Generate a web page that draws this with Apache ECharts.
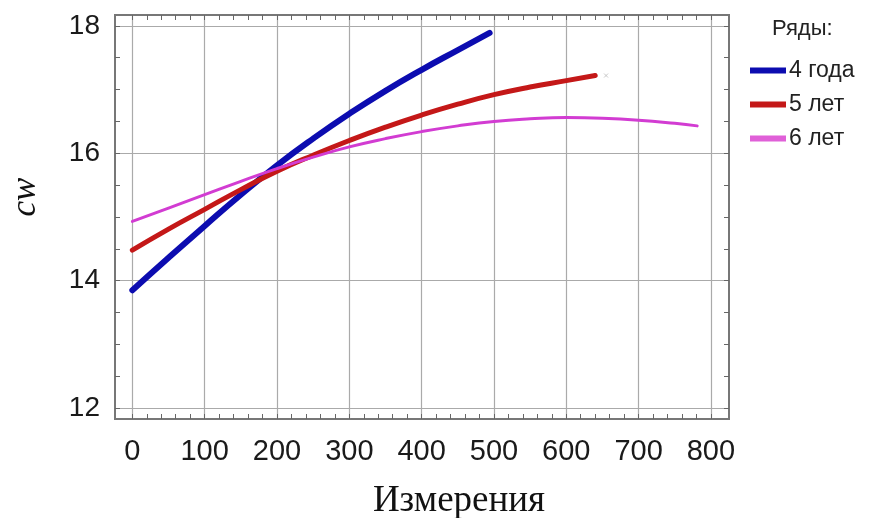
<!DOCTYPE html>
<html>
<head>
<meta charset="utf-8">
<script src="https://cdn.jsdelivr.net/npm/echarts@6/dist/echarts.min.js"></script>
<style>
html,body{margin:0;padding:0;background:#fff;}
#chart{width:869px;height:518px;}
</style>
</head>
<body>
<div id="chart"></div>
<script>
// ---- Data ----
const seriesNames = ['4 года', '5 лет', '6 лет'];

const x4 = [0, 50, 100, 150, 200, 250, 300, 350, 400, 450, 494];
const y4 = [13.85, 14.36, 14.86, 15.35, 15.81, 16.23, 16.62, 16.98, 17.31, 17.62, 17.89];

const x5 = [0, 50, 100, 150, 200, 250, 300, 350, 400, 450, 500, 550, 600, 640];
const y5 = [14.48, 14.81, 15.12, 15.43, 15.72, 15.97, 16.20, 16.41, 16.60, 16.77, 16.92, 17.04, 17.14, 17.22];

const x6 = [0, 50, 100, 150, 200, 250, 300, 350, 400, 450, 500, 550, 600, 650, 700, 750, 781];
const y6 = [14.93, 15.14, 15.35, 15.56, 15.76, 15.94, 16.10, 16.23, 16.34, 16.43, 16.50, 16.54, 16.56, 16.55, 16.52, 16.47, 16.43];

const xTickLabels = [0, 100, 200, 300, 400, 500, 600, 700, 800];
const yTickLabels = [12, 14, 16, 18];
const xMinorTicks = [];
for (let v = 0; v <= 800; v += 20) xMinorTicks.push(v);
const yMinorTicks = [];
for (let v = 12; v <= 18; v += 0.5) yMinorTicks.push(v);

const strayMark = [[655, 17.22]];

// ---- Chart ----
const pairs = (xs, ys) => xs.map((x, i) => [x, ys[i]]);
const X_MIN = -24, X_MAX = 825, Y_MIN = 11.83, Y_MAX = 18.17;

const chart = echarts.init(document.getElementById('chart'), null, {renderer: 'canvas'});

const minorX = (pos) => ({
  type: 'value', position: pos, min: X_MIN, max: X_MAX,
  axisLine: {show: false, onZero: false},
  axisLabel: {show: false},
  splitLine: {show: false},
  axisTick: {show: true, inside: true, length: 5, customValues: xMinorTicks,
    lineStyle: {color: '#666', width: 1}}
});
const minorY = (pos) => ({
  type: 'value', position: pos, min: Y_MIN, max: Y_MAX,
  axisLine: {show: false, onZero: false},
  axisLabel: {show: false},
  splitLine: {show: false},
  axisTick: {show: true, inside: true, length: 5, customValues: yMinorTicks,
    lineStyle: {color: '#666', width: 1}}
});

const colors = ['#0c0cb0', '#c41818', '#d23cd2'];
const widths = [6, 5, 3];

chart.setOption({
  animation: false,
  backgroundColor: '#ffffff',
  title: {
    text: 'Ряды:', left: 767, top: 13,
    textStyle: {fontFamily: 'Liberation Sans', fontSize: 22, fontWeight: 'normal', color: '#222'}
  },
  legend: {
    orient: 'vertical', left: 745, top: 54,
    itemWidth: 36, itemHeight: 6, itemGap: 11,
    icon: 'rect',
    data: seriesNames,
    textStyle: {fontFamily: 'Liberation Sans', fontSize: 23, color: '#222', padding: [0, 0, 0, -2]}
  },
  grid: {
    left: 115, right: 140, top: 15, bottom: 99,
    outerBoundsMode: 'none', containLabel: false,
    show: true, borderColor: '#777', borderWidth: 2, backgroundColor: 'transparent'
  },
  xAxis: [
    {
      type: 'value', position: 'bottom', min: X_MIN, max: X_MAX,
      name: 'Измерения', nameLocation: 'middle', nameGap: 64,
      nameTextStyle: {fontFamily: 'Liberation Serif', fontSize: 37, color: '#111', padding: [0, 0, 0, 74]},
      axisLine: {show: false, onZero: false},
      axisTick: {show: false, customValues: xTickLabels},
      axisLabel: {customValues: xTickLabels, margin: 18, fontFamily: 'Liberation Sans', fontSize: 29, color: '#1a1a1a'},
      splitLine: {show: true, lineStyle: {color: '#aaa', width: 1.2}}
    },
    minorX('bottom'),
    minorX('top')
  ],
  yAxis: [
    {
      type: 'value', position: 'left', min: Y_MIN, max: Y_MAX,
      name: 'cw', nameLocation: 'middle', nameGap: 72,
      nameTextStyle: {fontFamily: 'Liberation Serif', fontStyle: 'italic', fontSize: 35, color: '#111', padding: [0, 0, 0, 40]},
      axisLine: {show: false, onZero: false},
      axisTick: {show: false, customValues: yTickLabels},
      axisLabel: {customValues: yTickLabels, margin: 15, fontFamily: 'Liberation Sans', fontSize: 28, color: '#1a1a1a'},
      splitLine: {show: true, lineStyle: {color: '#aaa', width: 1.2}}
    },
    minorY('left'),
    minorY('right')
  ],
  series: [
    {name: seriesNames[0], type: 'line', smooth: true, showSymbol: false, xAxisIndex: 0, yAxisIndex: 0,
     data: pairs(x4, y4), itemStyle: {color: colors[0]}, lineStyle: {color: colors[0], width: widths[0], cap: 'round'}},
    {name: seriesNames[1], type: 'line', smooth: true, showSymbol: false, xAxisIndex: 0, yAxisIndex: 0,
     data: pairs(x5, y5), itemStyle: {color: colors[1]}, lineStyle: {color: colors[1], width: widths[1], cap: 'round'}},
    {name: seriesNames[2], type: 'line', smooth: true, showSymbol: false, xAxisIndex: 0, yAxisIndex: 0,
     data: pairs(x6, y6), itemStyle: {color: '#e060d8'}, lineStyle: {color: colors[2], width: widths[2], cap: 'round'}},
    {type: 'scatter', xAxisIndex: 0, yAxisIndex: 0, data: strayMark, silent: true,
     symbol: 'path://M0,0L10,10M10,0L0,10', symbolSize: 4,
     itemStyle: {color: 'none', borderColor: '#bbb', borderWidth: 1}}
  ]
});
</script>
</body>
</html>
